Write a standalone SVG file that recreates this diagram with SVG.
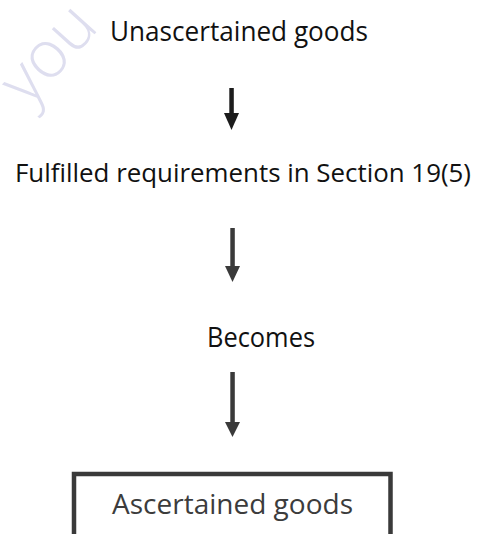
<svg xmlns="http://www.w3.org/2000/svg" width="480" height="534" viewBox="0 0 480 534">
<style>
.t{font-family:"Open Sans","Noto Sans","Liberation Sans",sans-serif;font-size:27px;fill:#111}
.s{font-size:25px}
.g{fill:#3c3c3c}
.wm{font-family:"Open Sans","Noto Sans",sans-serif;font-weight:300;font-size:66px;fill:#dedeef}
</style>
<rect width="480" height="534" fill="#fff"/>
<text class="wm" transform="translate(28,108) rotate(-48)">you</text>
<g id="connectors">
<g id="arrow1" fill="#1c1c1c"><rect x="229.3" y="88" width="4.5" height="26"/><polygon points="224,113 239,113 231.5,130"/></g>
<g id="arrow2" fill="#3a3a3a"><rect x="230.3" y="228" width="4.5" height="39"/><polygon points="225,266 240,266 232.5,282"/></g>
<g id="arrow3" fill="#3a3a3a"><rect x="230.3" y="372" width="4.5" height="51"/><polygon points="225,422 240,422 232.5,437"/></g>
</g>
<g id="n1"><text class="t" x="110" y="40.5" textLength="258" lengthAdjust="spacingAndGlyphs">Unascertained goods</text></g>
<g id="n2"><text class="t s" x="15" y="182" textLength="456" lengthAdjust="spacingAndGlyphs">Fulfilled requirements in Section 19(5)</text></g>
<g id="n3"><text class="t" x="207" y="347" textLength="108" lengthAdjust="spacingAndGlyphs">Becomes</text></g>
<g id="n4"><path d="M74,540 V474 H390.5 V540" fill="none" stroke="#3a3a3a" stroke-width="4.5"/><text class="t g" x="112" y="514" textLength="241" lengthAdjust="spacingAndGlyphs">Ascertained goods</text></g>
</svg>
